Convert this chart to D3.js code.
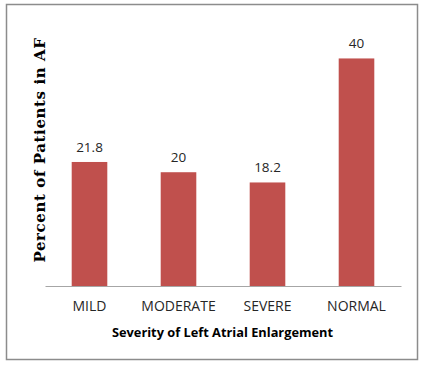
<!DOCTYPE html>
<html>
<head>
<meta charset="utf-8">
<script src="https://cdn.jsdelivr.net/npm/d3@7"></script>
<style>
  body { margin: 0; background: #fff; }
  svg { display: block; }
</style>
</head>
<body>
<svg id="chart" width="422" height="366"></svg>
<script>
const categories = ["MILD", "MODERATE", "SEVERE", "NORMAL"];
const values = [21.8, 20, 18.2, 40];
const valueLabels = ["21.8", "20", "18.2", "40"];

const svg = d3.select("#chart");
const width = 422, height = 366;

// outer frame
svg.append("rect")
    .attr("x", 6.5).attr("y", 4.5)
    .attr("width", 411).attr("height", 355)
    .attr("fill", "#fff")
    .attr("stroke", "#8c8c8c")
    .attr("stroke-width", 1.5);

const margin = { top: 30, right: 21, bottom: 80, left: 45 };
const innerWidth = width - margin.left - margin.right;
const innerHeight = height - margin.top - margin.bottom;

const g = svg.append("g")
    .attr("transform", `translate(${margin.left},${margin.top})`);

const x = d3.scaleBand()
    .domain(categories)
    .range([0, innerWidth])
    .paddingInner(0.6)
    .paddingOuter(0.3);

const y = d3.scaleLinear()
    .domain([0, 45])
    .range([innerHeight, 0]);

// bars
g.selectAll(".bar")
    .data(values)
    .enter().append("rect")
    .attr("class", "bar")
    .attr("x", (d, i) => x(categories[i]))
    .attr("y", d => y(d))
    .attr("width", x.bandwidth())
    .attr("height", d => innerHeight - y(d))
    .attr("fill", "#c0504d");

// value labels
g.selectAll(".val")
    .data(values)
    .enter().append("text")
    .attr("x", (d, i) => x(categories[i]) + x.bandwidth() / 2)
    .attr("y", d => y(d) - 10)
    .attr("text-anchor", "middle")
    .attr("font-family", "Open Sans, sans-serif")
    .attr("font-size", 13.5)
    .attr("fill", "#262626")
    .text((d, i) => valueLabels[i]);

// x axis
const xAxis = g.append("g")
    .attr("transform", `translate(0,${innerHeight})`)
    .call(d3.axisBottom(x).tickSize(0).tickPadding(15));
xAxis.select(".domain").attr("stroke", "#a6a6a6").attr("stroke-width", 1);
xAxis.selectAll("text")
    .attr("font-family", "Open Sans, sans-serif")
    .attr("font-size", 14)
    .attr("fill", "#262626");

// axis titles
g.append("text")
    .attr("x", 177.5)
    .attr("y", innerHeight + 51)
    .attr("text-anchor", "middle")
    .attr("font-family", "Open Sans, sans-serif")
    .attr("font-weight", "bold")
    .attr("font-size", 12.8)
    .attr("fill", "#000")
    .text("Severity of Left Atrial Enlargement");

svg.append("text")
    .attr("transform", "translate(45,150) rotate(-90)")
    .attr("text-anchor", "middle")
    .attr("font-family", "'DejaVu Serif', serif")
    .attr("font-weight", "bold")
    .attr("font-size", 15)
    .attr("letter-spacing", 0.6)
    .attr("fill", "#000")
    .text("Percent of Patients in AF");
</script>
</body>
</html>
